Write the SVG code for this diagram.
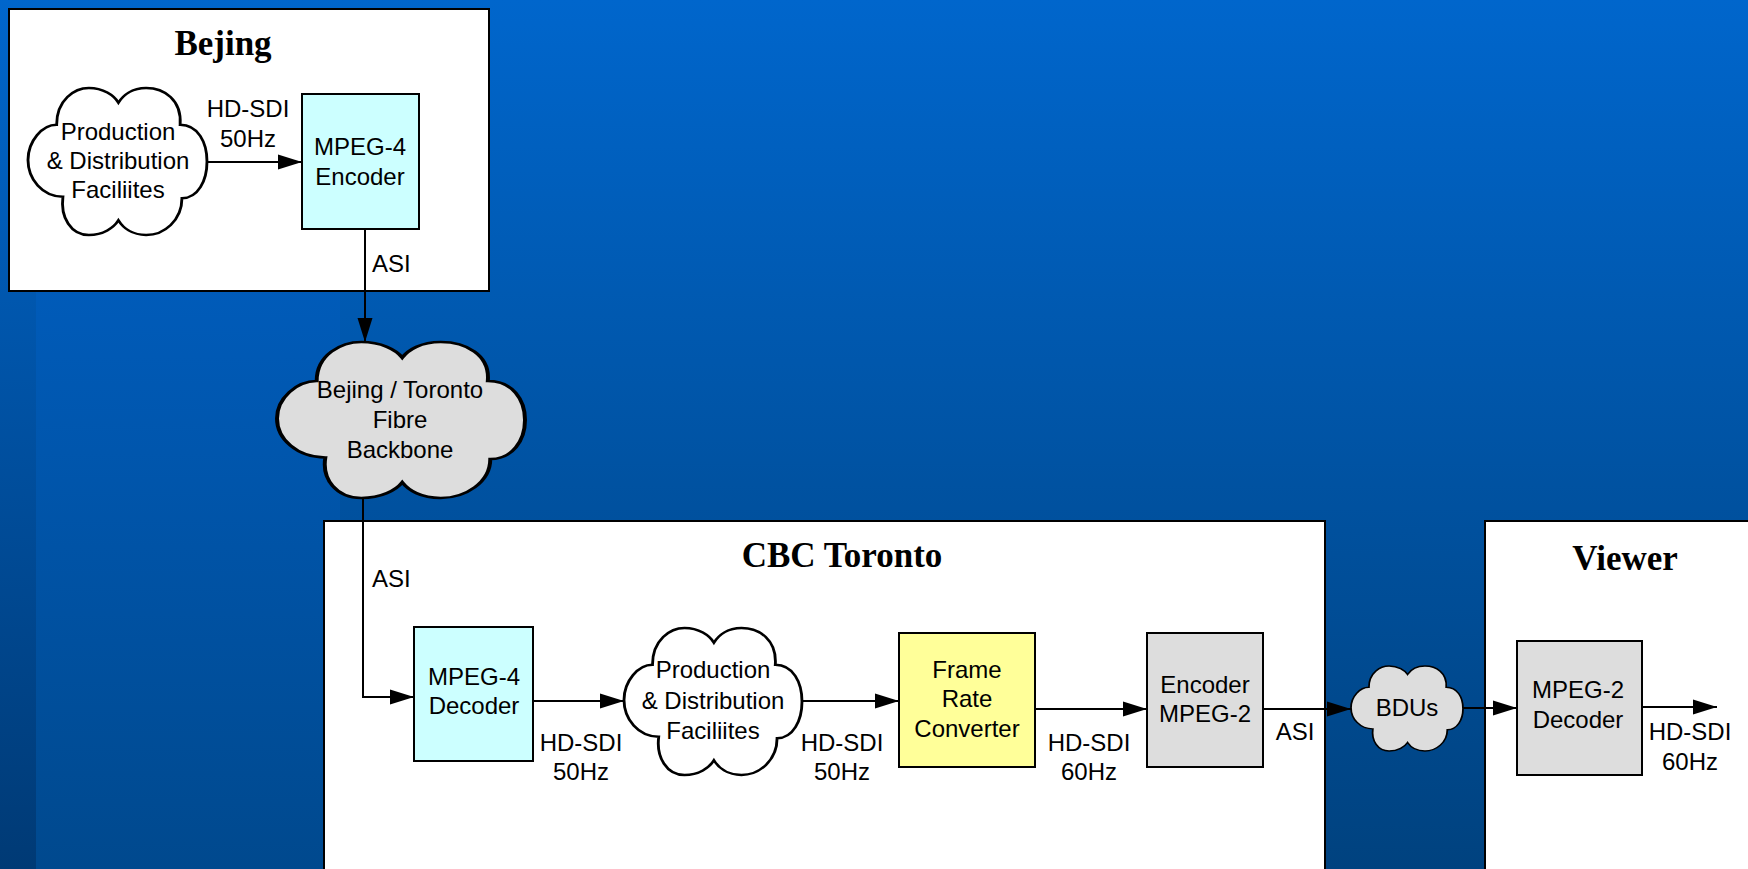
<svg xmlns="http://www.w3.org/2000/svg" width="1748" height="869" viewBox="0 0 1748 869">
  <defs>
    <linearGradient id="bg" x1="0" y1="0" x2="0" y2="869" gradientUnits="userSpaceOnUse">
      <stop offset="0" stop-color="#0066cc"/>
      <stop offset="1" stop-color="#00427f"/>
    </linearGradient>
    <linearGradient id="bgPanel" x1="0" y1="291" x2="0" y2="869" gradientUnits="userSpaceOnUse">
      <stop offset="0" stop-color="#005bb9"/>
      <stop offset="1" stop-color="#00498e"/>
    </linearGradient>
    <linearGradient id="bgStrip" x1="0" y1="0" x2="0" y2="869" gradientUnits="userSpaceOnUse">
      <stop offset="0" stop-color="#0066cc"/>
      <stop offset="1" stop-color="#003a75"/>
    </linearGradient>
    <marker id="arrow" markerWidth="24" markerHeight="16" refX="24" refY="8" orient="auto" markerUnits="userSpaceOnUse">
      <path d="M0,0.5 L24,8 L0,15.5 Z" fill="#000"/>
    </marker>
    <!-- cloud outline in a 100x100 unit box -->
    <path id="cloud" d="M16,25 C16,8 26,0 34,0 C42,0 48,5 50.5,10 C53,5 58,0 66,0 C76,0 86,8 85,25 C95,25 100,37 100,50 C100,63 95,75 86,75 C86,90 76,100 66,100 C58,100 53,95 50.5,90 C48,95 42,100 34,100 C24,100 18,88 19.5,74 C8,74 0,62 0,49 C0,36 8,25 16,25 Z"/>
  </defs>
  <style>
    .site { fill: #ffffff; stroke: #000; stroke-width: 2; }
    .box { stroke: #000; stroke-width: 2; }
    .cyan { fill: #ccffff; }
    .yellow { fill: #ffff99; }
    .grey { fill: #dddddd; }
    .cloud { stroke: #000; stroke-width: 1.6; vector-effect: non-scaling-stroke; }
    .title { font-family: "Liberation Serif", "Times New Roman", serif; font-weight: bold; font-size: 35px; fill: #000; text-anchor: middle; }
    .lbl { font-family: "Liberation Sans", Arial, sans-serif; font-size: 24px; fill: #000; text-anchor: middle; }
    .lblL { font-family: "Liberation Sans", Arial, sans-serif; font-size: 24px; fill: #000; }
    .conn { fill: none; stroke: #000; stroke-width: 2; }
  </style>

  <!-- background -->
  <rect x="0" y="0" width="1748" height="869" fill="url(#bg)"/>
  <rect x="36" y="291" width="304" height="578" fill="url(#bgPanel)"/>
  <rect x="0" y="0" width="36" height="869" fill="url(#bgStrip)"/>

  <!-- site frames -->
  <g id="site-bejing">
    <rect class="site" x="9" y="9" width="480" height="282"/>
    <text class="title" x="223" y="55">Bejing</text>
  </g>
  <g id="site-cbc-toronto">
    <rect class="site" x="324" y="521" width="1001" height="360"/>
    <text class="title" x="842" y="567">CBC Toronto</text>
  </g>
  <g id="site-viewer">
    <rect class="site" x="1485" y="521" width="280" height="360"/>
    <text class="title" x="1625" y="570">Viewer</text>
  </g>

  <!-- connectors -->
  <g id="connectors">
    <path class="conn" d="M207,162 H302" marker-end="url(#arrow)"/>
    <path class="conn" d="M365,229 V342" marker-end="url(#arrow)"/>
    <path class="conn" d="M363,498 V697 H414" marker-end="url(#arrow)"/>
    <path class="conn" d="M533,701 H624" marker-end="url(#arrow)"/>
    <path class="conn" d="M802,701 H899" marker-end="url(#arrow)"/>
    <path class="conn" d="M1035,709 H1147" marker-end="url(#arrow)"/>
    <path class="conn" d="M1263,709 H1351" marker-end="url(#arrow)"/>
    <path class="conn" d="M1463,708 H1517" marker-end="url(#arrow)"/>
    <path class="conn" d="M1642,707 H1717" marker-end="url(#arrow)"/>

    <text class="lbl" x="248" y="117">HD-SDI</text>
    <text class="lbl" x="248" y="147">50Hz</text>
    <text class="lblL" x="372" y="272">ASI</text>
    <text class="lblL" x="372" y="587">ASI</text>
    <text class="lbl" x="581" y="751">HD-SDI</text>
    <text class="lbl" x="581" y="780">50Hz</text>
    <text class="lbl" x="842" y="751">HD-SDI</text>
    <text class="lbl" x="842" y="780">50Hz</text>
    <text class="lbl" x="1089" y="751">HD-SDI</text>
    <text class="lbl" x="1089" y="780">60Hz</text>
    <text class="lbl" x="1295" y="740">ASI</text>
    <text class="lbl" x="1690" y="740">HD-SDI</text>
    <text class="lbl" x="1690" y="770">60Hz</text>
  </g>

  <!-- nodes -->
  <g id="bejing-production">
    <use href="#cloud" class="cloud" fill="#ffffff" transform="translate(28,88) scale(1.79,1.47)"/>
    <text class="lbl" x="118" y="140">Production</text>
    <text class="lbl" x="118" y="169">&amp; Distribution</text>
    <text class="lbl" x="118" y="198">Faciliites</text>
  </g>
  <g id="mpeg4-encoder">
    <rect class="box cyan" x="302" y="94" width="117" height="135"/>
    <text class="lbl" x="360" y="155">MPEG-4</text>
    <text class="lbl" x="360" y="185">Encoder</text>
  </g>
  <g id="fibre-backbone">
    <use href="#cloud" class="cloud" fill="#dddddd" transform="translate(277,342) scale(2.48,1.56)"/>
    <text class="lbl" x="400" y="398">Bejing / Toronto</text>
    <text class="lbl" x="400" y="428">Fibre</text>
    <text class="lbl" x="400" y="458">Backbone</text>
  </g>
  <g id="mpeg4-decoder">
    <rect class="box cyan" x="414" y="627" width="119" height="134"/>
    <text class="lbl" x="474" y="685">MPEG-4</text>
    <text class="lbl" x="474" y="714">Decoder</text>
  </g>
  <g id="toronto-production">
    <use href="#cloud" class="cloud" fill="#ffffff" transform="translate(624,628) scale(1.78,1.47)"/>
    <text class="lbl" x="713" y="678">Production</text>
    <text class="lbl" x="713" y="709">&amp; Distribution</text>
    <text class="lbl" x="713" y="739">Faciliites</text>
  </g>
  <g id="frame-rate-converter">
    <rect class="box yellow" x="899" y="633" width="136" height="134"/>
    <text class="lbl" x="967" y="678">Frame</text>
    <text class="lbl" x="967" y="707">Rate</text>
    <text class="lbl" x="967" y="737">Converter</text>
  </g>
  <g id="mpeg2-encoder">
    <rect class="box grey" x="1147" y="633" width="116" height="134"/>
    <text class="lbl" x="1205" y="693">Encoder</text>
    <text class="lbl" x="1205" y="722">MPEG-2</text>
  </g>
  <g id="bdus">
    <use href="#cloud" class="cloud" fill="#dddddd" transform="translate(1351,666) scale(1.12,0.85)"/>
    <text class="lbl" x="1407" y="716">BDUs</text>
  </g>
  <g id="mpeg2-decoder">
    <rect class="box grey" x="1517" y="641" width="125" height="134"/>
    <text class="lbl" x="1578" y="698">MPEG-2</text>
    <text class="lbl" x="1578" y="728">Decoder</text>
  </g>
</svg>
